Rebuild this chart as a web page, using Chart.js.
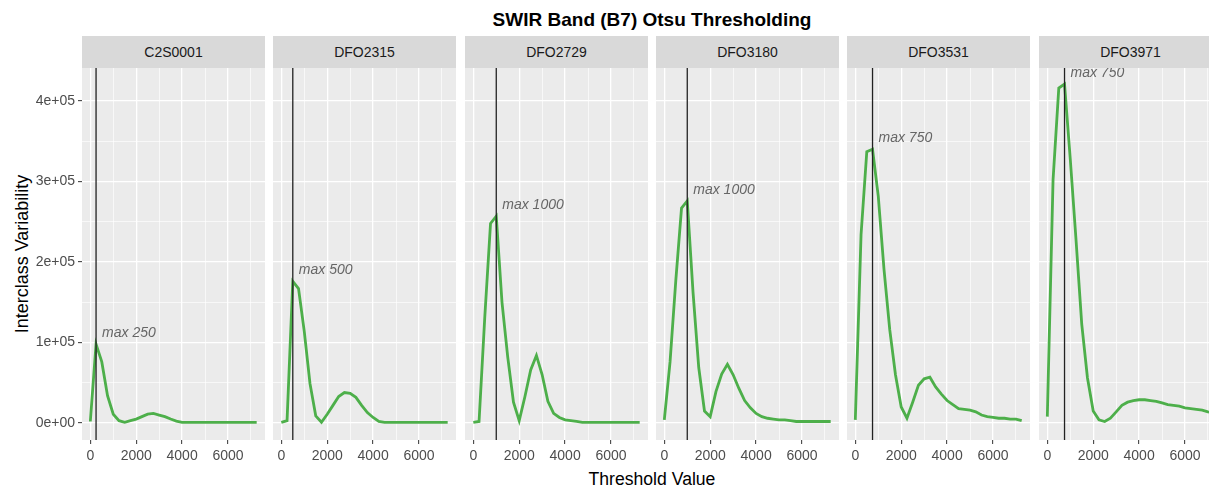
<!DOCTYPE html>
<html>
<head>
<meta charset="utf-8">
<script src="https://cdn.jsdelivr.net/npm/chart.js@4/dist/chart.umd.min.js"></script>
<style>
  body { margin: 0; background: #fff; font-family: 'Liberation Sans', Arial, sans-serif; }
  #wrap { position: relative; width: 1209px; height: 487px; overflow: hidden; }
  .strip { position: absolute; top: 36px; height: 32px; width: 183px; background: #d9d9d9; color: #1a1a1a; font-size: 14px; line-height: 32px; text-align: center; }
  #title { position: absolute; left: 82px; width: 1140px; top: 8px; line-height: 24px; text-align: center; font-weight: bold; font-size: 19px; color: #000; }
  #xtitle { position: absolute; left: 82px; width: 1140px; top: 469px; line-height: 20px; text-align: center; font-size: 17.6px; color: #000; }
  #ytitle { position: absolute; left: 22px; top: 254px; transform: translate(-50%, -50%) rotate(-90deg); white-space: nowrap; font-size: 18px; color: #000; }
  canvas { position: absolute; top: 68px; }
</style>
</head>
<body>
<div id="wrap">
  <div id="title">SWIR Band (B7) Otsu Thresholding</div>
  <div id="ytitle">Interclass Variability</div>
  <div id="xtitle">Threshold Value</div>
</div>
<script>
const sites = ['C2S0001', 'DFO2315', 'DFO2729', 'DFO3180', 'DFO3531', 'DFO3971']
const otsuMax = [250, 500, 1000, 1000, 750, 750]

const thresholds = [0, 250, 500, 750, 1000, 1250, 1500, 1750, 2000, 2250, 2500, 2750, 3000, 3250, 3500,
  3750, 4000, 4250, 4500, 4750, 5000, 5250, 5500, 5750, 6000, 6250, 6500, 6750, 7000, 7250]

const c2s0001 = [2000, 98000, 76000, 34000, 11000, 3000, 1000, 3000, 5000, 8000, 11000, 12000, 10000, 8000, 5000,
  2500, 1000, 1000, 1000, 1000, 1000, 1000, 1000, 1000, 1000, 1000, 1000, 1000, 1000, 1000]
const dfo2315 = [1000, 3000, 176000, 167000, 114000, 49000, 9000, 1000, 11000, 22000, 33000, 38000, 37000, 32000, 22000,
  13000, 7000, 2000, 1000, 1000, 1000, 1000, 1000, 1000, 1000, 1000, 1000, 1000, 1000, 1000]
const dfo2729 = [1000, 2000, 132000, 248000, 257000, 150000, 82000, 26000, 3000, 33000, 66000, 84000, 60000, 27000, 12000,
  7000, 4000, 3000, 2000, 1000, 1000, 1000, 1000, 1000, 1000, 1000, 1000, 1000, 1000, 1000]
const dfo3180 = [4000, 76000, 177000, 267000, 276000, 163000, 69000, 15000, 8000, 39000, 61000, 73000, 60000, 43000, 28000,
  19000, 12000, 8000, 6000, 5000, 4000, 4000, 3000, 2000, 2000, 2000, 2000, 2000, 2000, 2000]
const dfo3531 = [4000, 234000, 337000, 340000, 282000, 191000, 116000, 60000, 20000, 6000, 26000, 47000, 55000, 57000, 45000,
  36000, 28000, 23000, 18000, 17000, 16000, 14000, 10000, 8000, 7000, 6000, 6000, 5000, 5000, 3000]
const dfo3971 = [8000, 302000, 416000, 421000, 328000, 228000, 123000, 56000, 15000, 4000, 2000, 6000, 14000, 22000, 26000,
  28000, 29000, 29000, 28000, 27000, 25000, 23000, 22000, 21000, 19000, 18000, 17000, 16000, 14000, 13000]
const series = [c2s0001, dfo2315, dfo2729, dfo3180, dfo3531, dfo3971]

const xMajorTicks = [0, 2000, 4000, 6000]
const xMinorTicks = [1000, 3000, 5000, 7000]
const yMajorTicks = [0, 100000, 200000, 300000, 400000]
const yMinorTicks = [50000, 150000, 250000, 350000]
const yTickLabels = ['0e+00', '1e+05', '2e+05', '3e+05', '4e+05']

Chart.defaults.font.family = '"Liberation Sans", Arial, sans-serif'

const panelLefts = [82, 273, 465, 656, 847, 1039]
const panelW = 183
const panelH = 372
const xAxisH = 30

const panelBg = {
  id: 'panelBg',
  beforeDraw(chart) {
    const { ctx, chartArea: a } = chart
    ctx.save()
    ctx.fillStyle = '#ebebeb'
    ctx.fillRect(a.left, a.top, a.right - a.left, a.bottom - a.top)
    ctx.restore()
  },
}

// vertical line at the otsu threshold + italic "max ..." note
const maxMarker = {
  id: 'maxMarker',
  afterDatasetsDraw(chart, args, opts) {
    const { ctx, chartArea: a, scales } = chart
    const px = scales.x.getPixelForValue(opts.threshold)
    const py = scales.y.getPixelForValue(opts.value)
    ctx.save()
    ctx.beginPath()
    ctx.rect(a.left, a.top, a.right - a.left, a.bottom - a.top)
    ctx.clip()
    ctx.strokeStyle = '#222'
    ctx.lineWidth = 1.3
    ctx.beginPath()
    ctx.moveTo(px, a.top)
    ctx.lineTo(px, a.bottom)
    ctx.stroke()
    ctx.fillStyle = '#666'
    ctx.font = 'italic 14px "Liberation Sans", Arial, sans-serif'
    ctx.textBaseline = 'middle'
    ctx.fillText('max ' + opts.threshold, px + 6, py - 11)
    ctx.restore()
  },
}

const isMajor = (ctx, majors) => ctx.tick && majors.includes(ctx.tick.value)

const wrap = document.getElementById('wrap')

sites.forEach((site, i) => {
  const first = i === 0
  const axisW = first ? 82 : 0

  const strip = document.createElement('div')
  strip.className = 'strip'
  strip.style.left = panelLefts[i] + 'px'
  strip.textContent = site
  wrap.appendChild(strip)

  const canvas = document.createElement('canvas')
  canvas.width = panelW + axisW
  canvas.height = panelH + xAxisH
  canvas.style.left = (panelLefts[i] - axisW) + 'px'
  wrap.appendChild(canvas)

  const k = thresholds.indexOf(otsuMax[i])

  new Chart(canvas, {
    type: 'line',
    data: {
      datasets: [
        {
          data: thresholds.map((t, j) => ({ x: t, y: series[i][j] })),
          borderColor: '#4daf4a',
          borderWidth: 2.8,
          pointRadius: 0,
          tension: 0,
          fill: false,
        },
      ],
    },
    options: {
      responsive: false,
      animation: false,
      devicePixelRatio: 1,
      layout: { padding: 0 },
      plugins: {
        legend: { display: false },
        tooltip: { enabled: false },
        maxMarker: { threshold: otsuMax[i], value: series[i][k] },
      },
      scales: {
        x: {
          type: 'linear',
          min: -362.5,
          max: 7612.5,
          afterBuildTicks: (s) => {
            s.ticks = xMajorTicks.concat(xMinorTicks).sort((a, b) => a - b).map((v) => ({ value: v }))
          },
          afterFit: (s) => {
            s.height = xAxisH
            s.paddingLeft = 0
            s.paddingRight = 0
          },
          border: { display: false },
          grid: {
            color: '#fff',
            lineWidth: (ctx) => (isMajor(ctx, xMajorTicks) ? 1.3 : 0.65),
            tickColor: (ctx) => (isMajor(ctx, xMajorTicks) ? '#333' : 'rgba(0,0,0,0)'),
            tickLength: 4,
            tickWidth: 1,
          },
          ticks: {
            autoSkip: false,
            maxRotation: 0,
            padding: 4,
            color: '#4d4d4d',
            font: { size: 14 },
            callback: (v) => (xMajorTicks.includes(v) ? String(v) : ''),
          },
        },
        y: {
          type: 'linear',
          min: -21000,
          max: 441000,
          afterBuildTicks: (s) => {
            s.ticks = yMajorTicks.concat(yMinorTicks).sort((a, b) => a - b).map((v) => ({ value: v }))
          },
          afterFit: (s) => {
            s.width = axisW
            s.paddingTop = 0
            s.paddingBottom = 0
          },
          border: { display: false },
          grid: {
            color: '#fff',
            lineWidth: (ctx) => (isMajor(ctx, yMajorTicks) ? 1.3 : 0.65),
            tickColor: (ctx) => (isMajor(ctx, yMajorTicks) ? '#333' : 'rgba(0,0,0,0)'),
            drawTicks: first,
            tickLength: 4,
            tickWidth: 1,
          },
          ticks: {
            display: first,
            autoSkip: false,
            padding: 3,
            color: '#4d4d4d',
            font: { size: 14 },
            callback: (v) => {
              const n = yMajorTicks.indexOf(v)
              return n >= 0 ? yTickLabels[n] : ''
            },
          },
        },
      },
    },
    plugins: [panelBg, maxMarker],
  })
})
</script>
</body>
</html>
